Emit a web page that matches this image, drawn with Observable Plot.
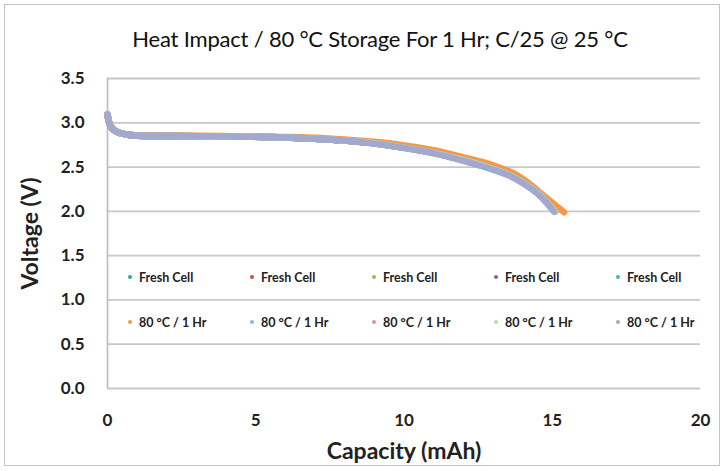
<!DOCTYPE html>
<html>
<head>
<meta charset="utf-8">
<script src="https://cdn.jsdelivr.net/npm/d3@7"></script>
<script src="https://cdn.jsdelivr.net/npm/@observablehq/plot@0.6"></script>
<style>
  html, body { margin: 0; padding: 0; background: #fff; }
  #wrap { position: relative; width: 725px; height: 471px; font-family: Lato, "Open Sans", sans-serif; }
  #border { position: absolute; left: 4px; top: 4px; width: 716px; height: 462px; border: 1px solid #c4c4c4; box-sizing: border-box; pointer-events: none; }
  #title { position: absolute; left: 0; width: 760px; top: 25px; text-align: center; font-size: 22px; color: #111; letter-spacing: -0.2px; }
  #legend { position: absolute; left: 128px; top: 266px; display: grid; grid-template-columns: repeat(5, 122px); row-gap: 23px; font-size: 12.5px; font-weight: bold; color: #222; }
  #legend .it { display: flex; align-items: center; height: 22px; }
  #legend .sw { width: 4px; height: 4px; border-radius: 50%; margin-right: 7px; }
  svg { position: absolute; left: 0; top: 0; }
</style>
</head>
<body>
<div id="wrap"><div id="title"></div><div id="border"></div></div>
<script>
const titleText = "Heat Impact / 80 °C Storage For 1 Hr; C/25 @ 25 °C";
const seriesNames = ["Fresh Cell","Fresh Cell","Fresh Cell","Fresh Cell","Fresh Cell",
                     "80 °C / 1 Hr","80 °C / 1 Hr","80 °C / 1 Hr","80 °C / 1 Hr","80 °C / 1 Hr"];
const seriesColors = ["#3f9aab","#c0504d","#9bbb59","#8064a2","#4bacc6",
                      "#f79646","#95b3d7","#d99694","#c3d69b","#a1a9cf"];
// which curve each series follows (curves listed below)
const seriesCurve = ["fresh","fresh","fresh","fresh","fresh","orange","fresh","fresh","fresh","gray"];

const freshCap = [0,0.05,0.15,0.3,0.6,1,2,4,6,7,8,9,10,11,12,13,13.5,14,14.5,14.8,15.1];
const freshV   = [3.09,3.01,2.94,2.90,2.87,2.855,2.85,2.845,2.835,2.82,2.80,2.77,2.72,2.66,2.58,2.48,2.42,2.33,2.21,2.11,2.00];
const orangeCap = [0,0.05,0.15,0.3,0.6,1,2,4,6,7,8,9,10,11,12,13,13.8,14.2,14.7,15.1,15.4];
const orangeV   = [3.08,3.00,2.94,2.90,2.87,2.86,2.855,2.85,2.84,2.83,2.81,2.785,2.745,2.69,2.61,2.52,2.41,2.32,2.18,2.07,1.99];
const grayCap = [0,0.03,0.1,0.2,0.4,0.7,1,2,4,6,7,8,9,10,11,12,13,13.5,14,14.5,14.8,15.05];
const grayV   = [3.10,3.03,2.96,2.92,2.89,2.865,2.855,2.85,2.845,2.835,2.82,2.80,2.765,2.715,2.655,2.57,2.47,2.41,2.32,2.20,2.10,2.00];

const xTicks = [0,5,10,15,20];
const yTicks = [0,0.5,1,1.5,2,2.5,3,3.5];

const curves = {
  fresh: freshCap.map((c,i)=>({cap:c, v:freshV[i]})),
  orange: orangeCap.map((c,i)=>({cap:c, v:orangeV[i]})),
  gray: grayCap.map((c,i)=>({cap:c, v:grayV[i]}))
};
const rows = [];
seriesNames.forEach((n,k)=>{
  curves[seriesCurve[k]].forEach(p=>rows.push({s:k, cap:p.cap, v:p.v}));
});

document.getElementById("title").textContent = titleText;

const chart = Plot.plot({
  width: 725, height: 471,
  marginLeft: 107, marginRight: 25, marginTop: 78, marginBottom: 83,
  style: {fontFamily: "Lato, 'Open Sans', sans-serif", background: "transparent", overflow: "visible"},
  x: {domain: [0,20], ticks: xTicks, tickSize: 0, tickPadding: 25, label: "Capacity (mAh)", labelArrow: "none", labelAnchor: "center", labelOffset: 70},
  y: {domain: [0,3.5], ticks: yTicks, tickSize: 0, tickPadding: 23, tickFormat: d3.format(".1f"), label: "Voltage (V)", labelArrow: "none", labelAnchor: "center", labelOffset: 86},
  color: {domain: d3.range(10), range: seriesColors},
  marks: [
    Plot.gridY(yTicks, {stroke: "#c8c8c8", strokeOpacity: 1, strokeWidth: 1.8}),
    Plot.ruleX([0], {stroke: "#c0c0c0", strokeWidth: 1.8}),
    Plot.line(rows, {x: "cap", y: "v", z: "s", stroke: "s", strokeWidth: 6.5, curve: "monotone-x", strokeLinecap: "round"})
  ]
});
chart.querySelectorAll("g[aria-label='x-axis tick label'], g[aria-label='y-axis tick label']").forEach(g=>{
  g.setAttribute("font-size","17"); g.setAttribute("font-weight","bold"); g.setAttribute("fill","#222");
});
chart.querySelectorAll("g[aria-label='x-axis label'], g[aria-label='y-axis label']").forEach(g=>{
  g.setAttribute("font-size","23"); g.setAttribute("font-weight","bold"); g.setAttribute("fill","#222");
  g.querySelectorAll("text").forEach(t=>{ t.textContent = t.textContent.replace(/\s*[→↑←↓]\s*/g,"").trim(); });
});
const wrap = document.getElementById("wrap");
wrap.insertBefore(chart, wrap.firstChild);

const legend = document.createElement("div");
legend.id = "legend";
seriesNames.forEach((n,k)=>{
  const it = document.createElement("div"); it.className = "it";
  const sw = document.createElement("span"); sw.className = "sw"; sw.style.background = seriesColors[k];
  const tx = document.createElement("span"); tx.textContent = n;
  it.appendChild(sw); it.appendChild(tx); legend.appendChild(it);
});
wrap.appendChild(legend);
</script>
</body>
</html>
